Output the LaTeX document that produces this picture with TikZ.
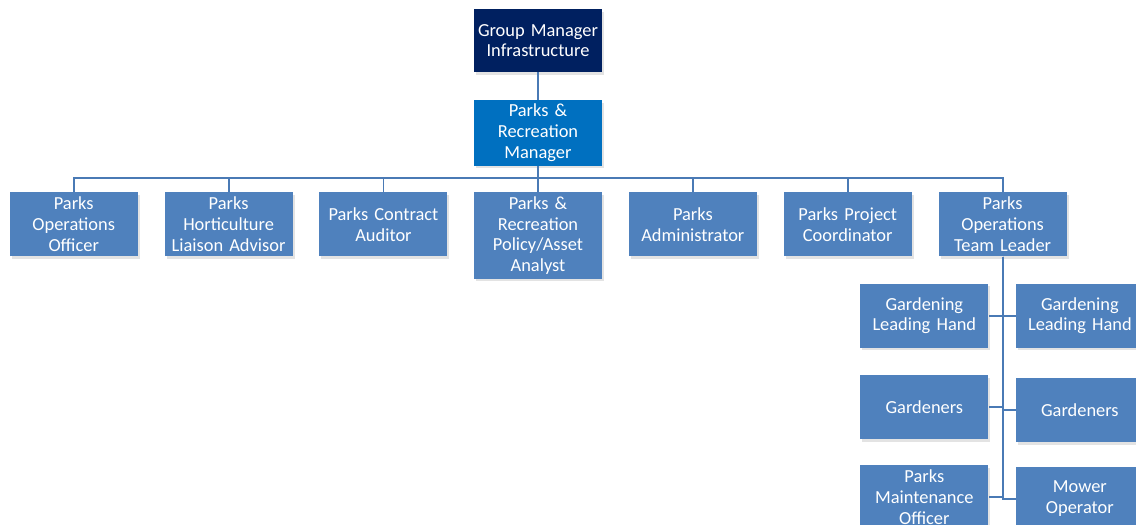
\documentclass[tikz,border=0pt]{standalone}
\usepackage{fontspec}
\setmainfont{Carlito}
\usetikzlibrary{positioning,shadows}
\definecolor{navy}{HTML}{002060}
\definecolor{brightblue}{HTML}{0070C0}
\definecolor{staffblue}{HTML}{4F81BD}
\definecolor{linkblue}{HTML}{4A7AB5}
\tikzstyle{block} = [rectangle, fill=staffblue, text=white, text width=93pt, align=center, minimum width=96pt, minimum height=48pt, inner xsep=1pt, inner ysep=3pt, font=\fontsize{13.8}{15.6}\selectfont, drop shadow={shadow xshift=1.5pt, shadow yshift=-2pt, opacity=0.22}]
\tikzstyle{link} = [line width=1.4pt, draw=linkblue]

\begin{document}
\begin{tikzpicture}[node distance=20pt]

		\useasboundingbox (0,0) rectangle (852pt,-393.75pt);

		\node (groupmanager) [block, fill=navy, minimum height=47.25pt] at (403.5pt,-30.5pt) {Group Manager Infrastructure};
		\node (manager) [block, fill=brightblue, below=20.5pt of groupmanager] {Parks \&\\Recreation\\Manager};

		\node (analyst) [block, below=19.75pt of manager] {Parks \&\\Recreation\\Policy/Asset\\Analyst};
		\node (auditor) [block, left=19.5pt of analyst.north west, anchor=north east] {Parks Contract\\Auditor};
		\node (horticulture) [block, left=19.75pt of auditor.north west, anchor=north east] {Parks\\Horticulture\\Liaison Advisor};
		\node (officer) [block, left=19.75pt of horticulture.north west, anchor=north east] {Parks\\Operations\\Officer};
		\node (administrator) [block, right=19.75pt of analyst.north east, anchor=north west] {Parks\\Administrator};
		\node (coordinator) [block, right=19.75pt of administrator.north east, anchor=north west] {Parks Project\\Coordinator};
		\node (teamleader) [block, right=19.75pt of coordinator.north east, anchor=north west] {Parks\\Operations\\Team Leader};

		\node (leadinghandA) [block, below=20pt of teamleader.south, anchor=north east, xshift=-10.5pt] {Gardening\\Leading Hand};
		\node (leadinghandB) [block, below=20pt of teamleader.south, anchor=north west, xshift=9.75pt] {Gardening\\Leading Hand};
		\node (gardenersA) [block, below=20pt of leadinghandA] {Gardeners};
		\node (gardenersB) [block, below=22.5pt of leadinghandB] {Gardeners};
		\node (maintenance) [block, below=19.5pt of gardenersA] {Parks\\Maintenance\\Officer};
		\node (mower) [block, below=18pt of gardenersB] {Mower\\Operator};

		\draw [link] (groupmanager) -- (manager);
		\foreach \staff in {officer,horticulture,auditor,analyst,administrator,coordinator,teamleader}
			\draw [link] (\staff.north) -- ++(0,10.5pt) -| (manager.south);

		\foreach \crew in {leadinghandA,gardenersA,maintenance}
			\draw [link] (teamleader.south) |- (\crew.east);
		\foreach \crew in {leadinghandB,gardenersB,mower}
			\draw [link] (teamleader.south) |- (\crew.west);

	\end{tikzpicture}
\end{document}
